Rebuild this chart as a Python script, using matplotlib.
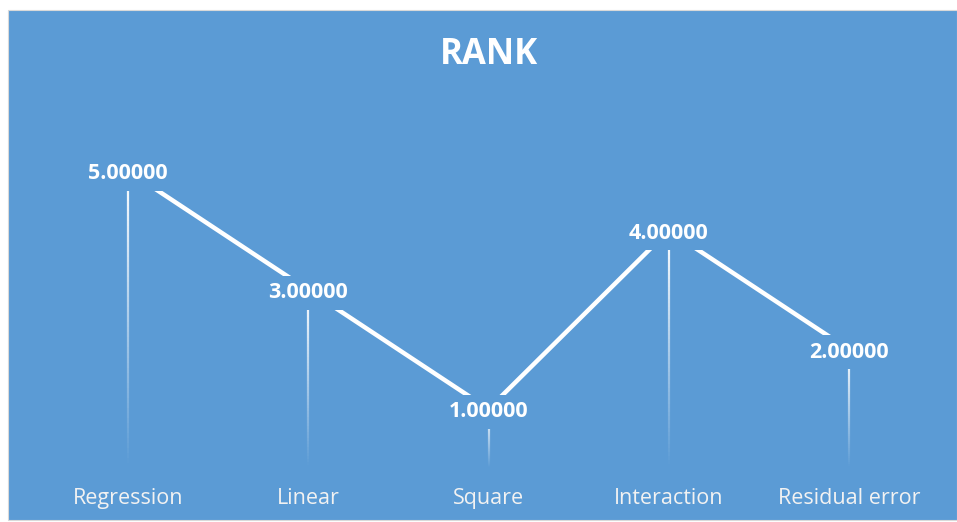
import numpy as np
import matplotlib.pyplot as plt
from matplotlib.patches import Rectangle
from matplotlib.collections import LineCollection

# chart data
categories = ["Regression", "Linear", "Square", "Interaction", "Residual error"]
rank = [5, 3, 1, 4, 2]
title = "RANK"

bg = "#5B9BD5"
plt.rcParams['font.family'] = ['Open Sans', 'DejaVu Sans']

fig = plt.figure(figsize=(9.57, 5.22), dpi=100)
fig.patch.set_facecolor("white")

# chart area panel, behind everything
fig.patches.append(Rectangle((8 / 957, 2 / 522), 949 / 957, 510 / 522,
                             transform=fig.transFigure, facecolor=bg,
                             edgecolor="#D9D9D9", linewidth=0.8, zorder=-10))

ax = fig.add_axes([38 / 957, 53.5 / 522, 901 / 957, 357 / 522])
ax.set_facecolor("none")
x = np.arange(len(categories))

# main line
ax.plot(x, rank, color="white", linewidth=3.2, solid_capstyle="butt", zorder=2)

# drop lines fading out toward the axis
for xi, v in zip(x, rank):
    ys = np.linspace(v, 0, 60)
    segs = [[(xi, ys[i]), (xi, ys[i + 1])] for i in range(len(ys) - 1)]
    alphas = np.linspace(1.0, 0.0, len(segs))
    cols = [(1, 1, 1, a) for a in alphas]
    ax.add_collection(LineCollection(segs, colors=cols, linewidths=1.6, zorder=1))

# data labels sitting on the points (box hides the line underneath)
for xi, v in zip(x, rank):
    ax.annotate("{:.5f}".format(v), (xi, v), xytext=(0, -2), textcoords="offset points",
                ha="center", va="center", color="white",
                fontsize=15.5, fontweight="bold", zorder=3,
                bbox=dict(boxstyle="square,pad=0.3", facecolor=bg, edgecolor="none"))

ax.set_xlim(-0.5, len(categories) - 0.5)
ax.set_ylim(0, 6)
ax.set_xticks(x)
ax.set_xticklabels(categories, color="#F2F2F2", fontsize=15.5)
ax.tick_params(axis="x", length=0, pad=14)
ax.set_yticks([])
for s in ax.spines.values():
    s.set_visible(False)

fig.text(489 / 957, 1 - 55 / 522, title, ha="center", va="center", color="white",
         fontsize=25, fontweight="bold")

fig.savefig("out.png", dpi=100, facecolor=fig.get_facecolor())
